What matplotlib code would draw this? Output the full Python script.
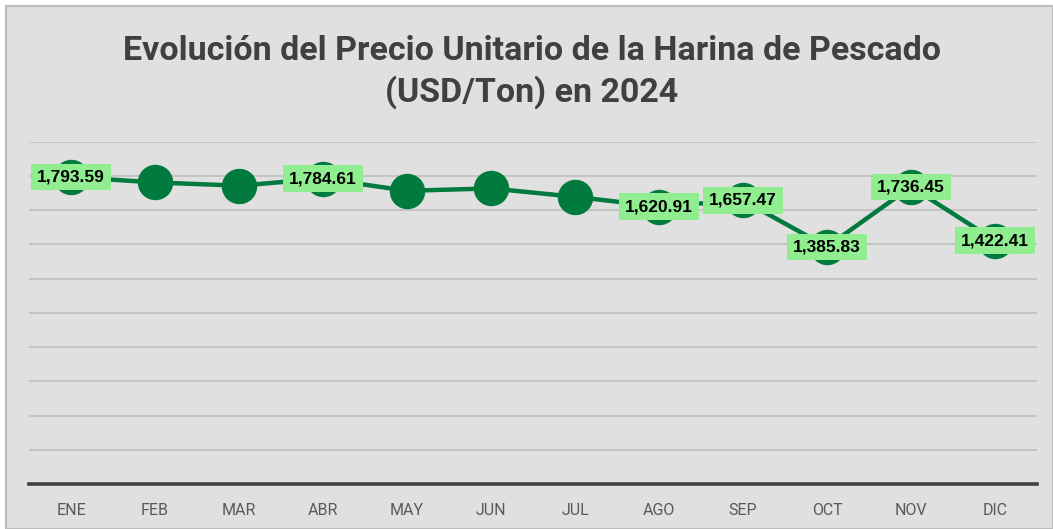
import matplotlib
matplotlib.use("Agg")
import matplotlib.pyplot as plt
from matplotlib.patches import Rectangle
import numpy as np

# Datos
meses = ['ENE', 'FEB', 'MAR', 'ABR', 'MAY', 'JUN', 'JUL', 'AGO', 'SEP', 'OCT', 'NOV', 'DIC']
precios = [1793.59, 1762, 1743, 1784.61, 1713, 1727, 1678, 1620.91, 1657.47, 1385.83, 1736.45, 1422.41]
con_etiqueta = ['ENE', 'ABR', 'AGO', 'SEP', 'OCT', 'NOV', 'DIC']
titulo = 'Evolución del Precio Unitario de la Harina de Pescado\n(USD/Ton) en 2024'

narrow = ['Roboto', 'DejaVu Sans']
verde = '#007a3d'

fig = plt.figure(figsize=(10.53, 5.29), dpi=100, facecolor='white')
fondo = Rectangle((6 / 1053, 0), 1047 / 1053, 523 / 529, transform=fig.transFigure,
                  facecolor='#e0e0e0', edgecolor='#bdbdbd', linewidth=1.5, zorder=-10)
fig.add_artist(fondo)

ax = fig.add_axes([29 / 1053, 45 / 529, 1008 / 1053, 342.3 / 529])
ax.set_facecolor('none')
x = np.arange(len(meses))
ax.plot(x, precios, color=verde, linewidth=3.2, marker='o', markersize=24.5,
        markerfacecolor=verde, markeredgecolor=verde, zorder=3)

for i, (m, v) in enumerate(zip(meses, precios)):
    if m in con_etiqueta:
        ax.text(i, v, f'{v:,.2f}', ha='center', va='center', fontsize=12.5, fontweight='bold',
                color='black', family=['Liberation Sans', 'DejaVu Sans'], zorder=5,
                bbox=dict(boxstyle='square,pad=0.33', facecolor='#90ee90', edgecolor='none'))

ax.set_xlim(-0.5, len(meses) - 0.5)
ax.set_ylim(0, 2000)
ax.set_yticks(np.arange(200, 2001, 200))
ax.yaxis.grid(True, color='#c4c4c4', linewidth=1.4)
ax.set_axisbelow(True)
ax.axhline(0, color='#404040', linewidth=2.6, zorder=2, clip_on=False)
for s in ax.spines.values():
    s.set_visible(False)
ax.tick_params(axis='y', left=False, labelleft=False)
ax.tick_params(axis='x', length=0, pad=14)
ax.set_xticks(x)
ax.set_xticklabels(meses, fontsize=11.5, color='#595959', family=narrow)

fig.text(0.505, 1 - 72 / 529, titulo, ha='center', va='center', fontsize=24.5, fontweight='bold',
         color='#404040', family=narrow, linespacing=1.3)

fig.savefig('out.png', dpi=100, facecolor='white')
